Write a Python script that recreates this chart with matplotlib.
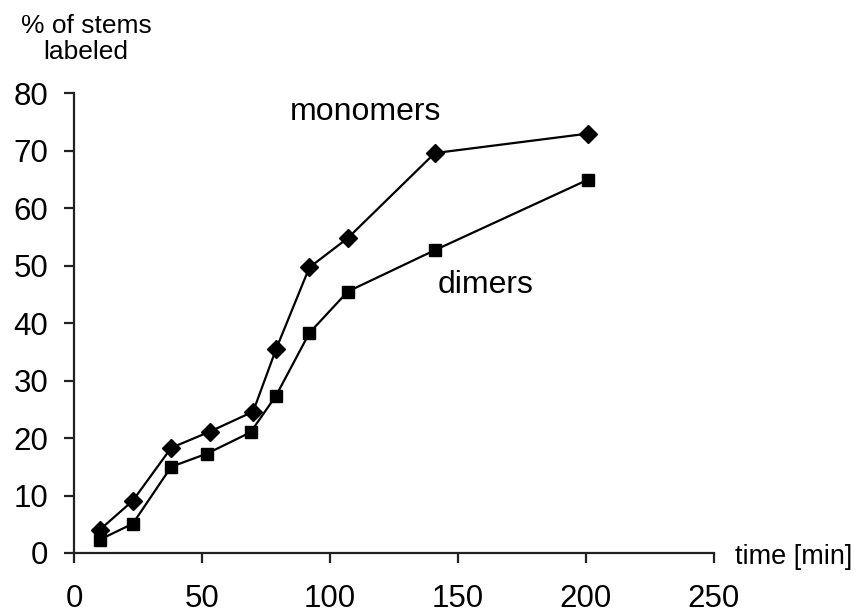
import matplotlib
matplotlib.use('Agg')
import matplotlib.pyplot as plt

# data
time_mono = [10, 23, 38, 53, 70, 79, 92, 107, 141, 201]
monomers = [4.0, 9.1, 18.3, 21.1, 24.6, 35.5, 49.7, 54.8, 69.6, 73.0]
time_dim = [10, 23, 38, 52, 69, 79, 92, 107, 141, 201]
dimers = [2.3, 5.1, 15.0, 17.3, 21.0, 27.4, 38.3, 45.5, 52.7, 65.0]

x_ticks = [0, 50, 100, 150, 200, 250]
y_ticks = [0, 10, 20, 30, 40, 50, 60, 70, 80]

plt.rcParams['font.family'] = ['Liberation Sans', 'DejaVu Sans']

fig = plt.figure(figsize=(8.62, 6.16), dpi=100)
ax = fig.add_axes([0.0858, 0.1023, 0.828 - 0.0858, 0.8485 - 0.1023])

# lines with markers
ax.plot(time_mono, monomers, color='black', lw=1.6, marker='D', ms=9, mfc='black', mec='black')
ax.plot(time_dim, dimers, color='black', lw=1.6, marker='s', ms=9, mfc='black', mec='black')

ax.set_xlim(0, 250)
ax.set_ylim(0, 80)
ax.set_xticks(x_ticks)
ax.set_yticks(y_ticks)

for s in ['top', 'right']:
    ax.spines[s].set_visible(False)
for s in ['left', 'bottom']:
    ax.spines[s].set_linewidth(1.6)
    ax.spines[s].set_color('#222222')

ax.tick_params(axis='both', direction='out', length=7.5, width=1.6, color='#222222', labelsize=22.5)
ax.tick_params(axis='x', pad=15)
ax.tick_params(axis='y', pad=11)

# labels
fig.text(86 / 862, 1 - 39 / 616, '% of stems\nlabeled', ha='center', va='center', fontsize=19, linespacing=1.1)
fig.text(735 / 862, 1 - 557 / 616, 'time [min]', ha='left', va='center', fontsize=19.5)
ax.text(84.5, 76.7, 'monomers', ha='left', va='center', fontsize=23)
ax.text(142, 46.7, 'dimers', ha='left', va='center', fontsize=23)

fig.savefig('out.png', dpi=100)
